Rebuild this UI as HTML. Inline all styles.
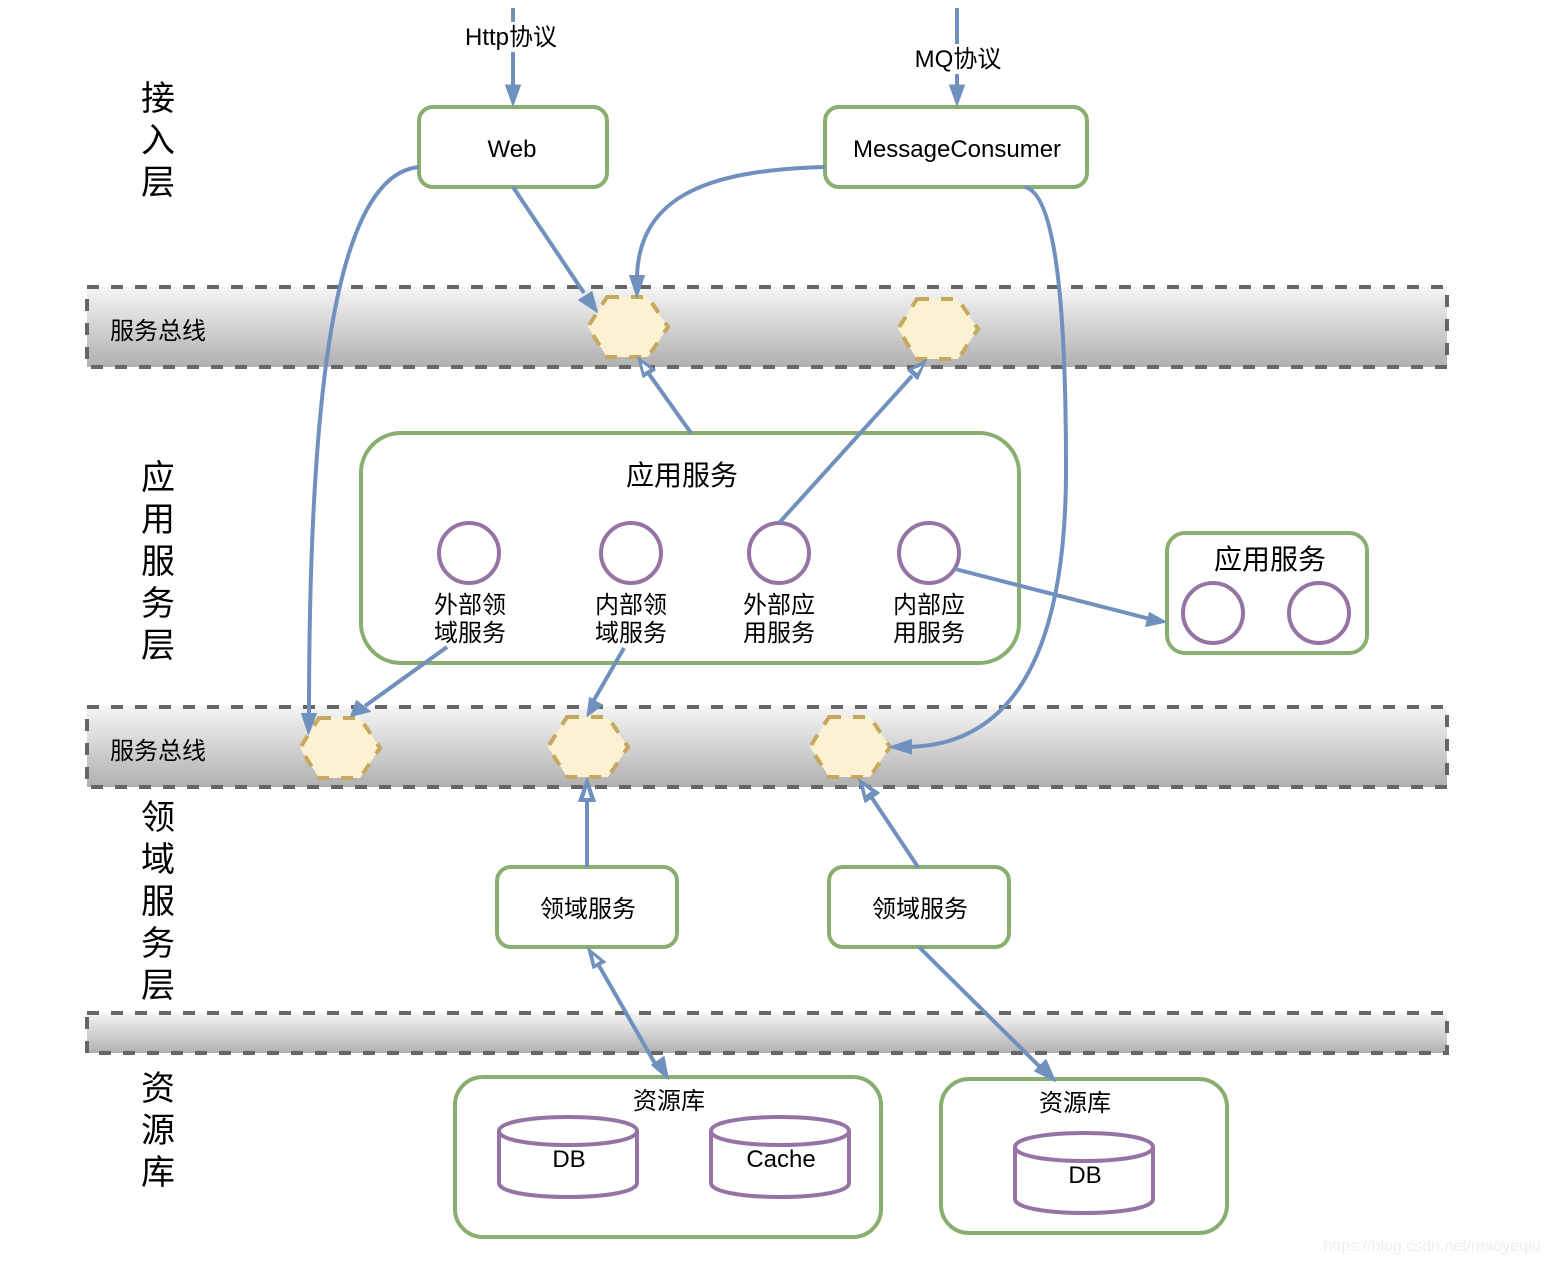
<!DOCTYPE html>
<html><head><meta charset="utf-8">
<style>
html,body{margin:0;padding:0;background:#fff;width:1548px;height:1264px;overflow:hidden}
svg{display:block}
text{font-family:"Liberation Sans","Noto Sans CJK SC",sans-serif;fill:#000;text-anchor:middle}
.g{fill:#fff;stroke:#8aae6f;stroke-width:4}
.p{fill:#fff;stroke:#9574a5;stroke-width:4}
.bus{stroke:#666;stroke-width:4;stroke-dasharray:12 12}
.hex{fill:#fcf1d0;stroke:#c6a85f;stroke-width:4;stroke-dasharray:12 12}
.e{fill:none;stroke:#7090bd;stroke-width:4}
.ah{fill:#7090bd;stroke:#7090bd;stroke-width:1;stroke-linejoin:round}
.w{fill:#fff;stroke:none}
.t24{font-size:24px}.t28{font-size:28px}.t34{font-size:34px}
</style></head><body>
<svg width="1548" height="1264" viewBox="0 0 1548 1264" xmlns="http://www.w3.org/2000/svg">
<defs><linearGradient id="b" x1="0" y1="0" x2="0" y2="1"><stop offset="0" stop-color="#f5f5f5"/><stop offset="1" stop-color="#b0b0b0"/></linearGradient></defs>
<rect width="1548" height="1264" fill="#fdfdfd"/>
<rect x="80" y="0" width="1370" height="1264" fill="#fff"/>

<rect class="bus" x="87" y="287" width="1360" height="80" fill="url(#b)"/>
<rect class="bus" x="87" y="707" width="1360" height="80" fill="url(#b)"/>
<rect class="bus" x="87" y="1013" width="1360" height="40" fill="url(#b)"/>

<text class="t34" x="158" y="110">接</text><text class="t34" x="158" y="152">入</text><text class="t34" x="158" y="194">层</text>
<text class="t34" x="158" y="489">应</text><text class="t34" x="158" y="531">用</text><text class="t34" x="158" y="573">服</text><text class="t34" x="158" y="615">务</text><text class="t34" x="158" y="657">层</text>
<text class="t34" x="158" y="829">领</text><text class="t34" x="158" y="871">域</text><text class="t34" x="158" y="913">服</text><text class="t34" x="158" y="955">务</text><text class="t34" x="158" y="997">层</text>
<text class="t34" x="158" y="1100">资</text><text class="t34" x="158" y="1142">源</text><text class="t34" x="158" y="1184">库</text>
<text class="t24" x="158" y="339">服务总线</text>
<text class="t24" x="158" y="759">服务总线</text>

<rect class="g" x="419" y="107" width="188" height="80" rx="14"/>
<rect class="g" x="825" y="107" width="262" height="80" rx="14"/>
<rect class="g" x="361" y="433" width="658" height="230" rx="40"/>
<rect class="g" x="1167" y="533" width="200" height="120" rx="18"/>
<rect class="g" x="497" y="867" width="180" height="80" rx="14"/>
<rect class="g" x="829" y="867" width="180" height="80" rx="14"/>
<rect class="g" x="455" y="1077" width="426" height="160" rx="28"/>
<rect class="g" x="941" y="1079" width="286" height="154" rx="28"/>

<polygon class="hex" points="607,297 648,297 668,327 648,357 607,357 588,327"/>
<polygon class="hex" points="917,299 958,299 978,329 958,359 917,359 898,329"/>
<polygon class="hex" points="319,718 360,718 380,748 360,778 319,778 300,748"/>
<polygon class="hex" points="567,717 608,717 628,747 608,777 567,777 548,747"/>
<polygon class="hex" points="829,717 870,717 890,747 870,777 829,777 810,747"/>

<circle class="p" cx="469" cy="553" r="30"/>
<circle class="p" cx="631" cy="553" r="30"/>
<circle class="p" cx="779" cy="553" r="30"/>
<circle class="p" cx="929" cy="553" r="30"/>
<circle class="p" cx="1213" cy="613" r="30"/>
<circle class="p" cx="1319" cy="613" r="30"/>

<path class="p" d="M499 1131V1183C499 1201.7 637 1201.7 637 1183V1131C637 1112.3 499 1112.3 499 1131C499 1149.7 637 1149.7 637 1131"/>
<path class="p" d="M711 1131V1183C711 1201.7 849 1201.7 849 1183V1131C849 1112.3 711 1112.3 711 1131C711 1149.7 849 1149.7 849 1131"/>
<path class="p" d="M1015 1147V1199C1015 1217.7 1153 1217.7 1153 1199V1147C1153 1128.3 1015 1128.3 1015 1147C1015 1165.7 1153 1165.7 1153 1147"/>

<!-- connectors -->
<path class="e" d="M513 8V88"/>
<path class="ah" d="M513 106L505.5 85H520.5Z"/>
<path class="e" d="M957 8V88"/>
<path class="ah" d="M957 106L949.5 85H964.5Z"/>
<path class="e" d="M513 187L584 293"/>
<path class="ah" d="M597.5 312.5L578.5 300L592 291.5Z"/>
<path class="e" d="M825 167C720 170 637 190 637 280"/>
<path class="ah" d="M637 297.5L629.5 275.5H644.5Z"/>
<path class="e" d="M419 167C330 175 309 420 309 716"/>
<path class="ah" d="M308.5 734.5L301.5 713.5H316.5Z"/>
<path class="e" d="M1025 187C1060 195 1066 340 1066 470C1066 640 1020 747 905 747"/>
<path class="ah" d="M889.5 747L911.5 739.5V754Z"/>
<path class="e" d="M691 433L649 374"/>
<path class="ah" d="M637.5 356.5L655.5 370L643 377.5Z"/>
<path class="w" d="M642 363L650 369L644 372.5Z"/>
<path class="e" d="M779 523L912 376"/>
<path class="ah" d="M926.5 359.5L917.5 379.5L907.5 370Z"/>
<path class="w" d="M922 366L917 373L913 369.5Z"/>
<path class="e" d="M955 569L1150 619"/>
<path class="ah" d="M1166.5 622L1145.5 626.5L1149.5 612.5Z"/>
<path class="e" d="M447 647L365 706"/>
<path class="ah" d="M350.5 716.5L356.5 700.5L370.5 711.5Z"/>
<path class="e" d="M624 648L594 700"/>
<path class="ah" d="M587 716.5L589.5 697.5L602.5 705Z"/>
<path class="e" d="M587 867V798"/>
<path class="ah" d="M587 777.5L595.5 801.5H578.5Z"/>
<path class="w" d="M587 788L590 798H584Z"/>
<path class="e" d="M918 867L870 795"/>
<path class="ah" d="M858.5 778.5L879.5 793L865 802.5Z"/>
<path class="w" d="M864 786L871 791.5L866 795Z"/>
<path class="e" d="M598 964L657 1067"/>
<path class="ah" d="M587.5 947.5L605.5 962L593 968.5Z"/>
<path class="w" d="M593 955L600 961L595 964Z"/>
<path class="ah" d="M668.5 1079.5L651.5 1065L664 1056.5Z"/>
<path class="e" d="M919 947L1041 1068"/>
<path class="ah" d="M1055.5 1081.5L1034.5 1071L1046 1059.5Z"/>

<rect x="465" y="22" width="92" height="30" fill="#fff"/>
<rect x="915" y="44" width="88" height="30" fill="#fff"/>
<text class="t24" x="511" y="45">Http协议</text>
<text class="t24" x="958" y="67">MQ协议</text>
<text class="t24" x="512" y="157">Web</text>
<text class="t24" x="957" y="157">MessageConsumer</text>
<text class="t28" x="682" y="485">应用服务</text>
<text class="t28" x="1270" y="569">应用服务</text>
<text class="t24" x="470" y="613">外部领</text><text class="t24" x="470" y="641">域服务</text>
<text class="t24" x="631" y="613">内部领</text><text class="t24" x="631" y="641">域服务</text>
<text class="t24" x="779" y="613">外部应</text><text class="t24" x="779" y="641">用服务</text>
<text class="t24" x="929" y="613">内部应</text><text class="t24" x="929" y="641">用服务</text>
<text class="t24" x="588" y="917">领域服务</text>
<text class="t24" x="920" y="917">领域服务</text>
<text class="t24" x="669" y="1109">资源库</text>
<text class="t24" x="1075" y="1111">资源库</text>
<text class="t24" x="569" y="1167">DB</text>
<text class="t24" x="781" y="1167">Cache</text>
<text class="t24" x="1085" y="1183">DB</text>
<text x="1432" y="1251" style="font-size:16px;fill:#eeeeee">https://blog.csdn.net/maoyeqiu</text>
</svg>
</body></html>
